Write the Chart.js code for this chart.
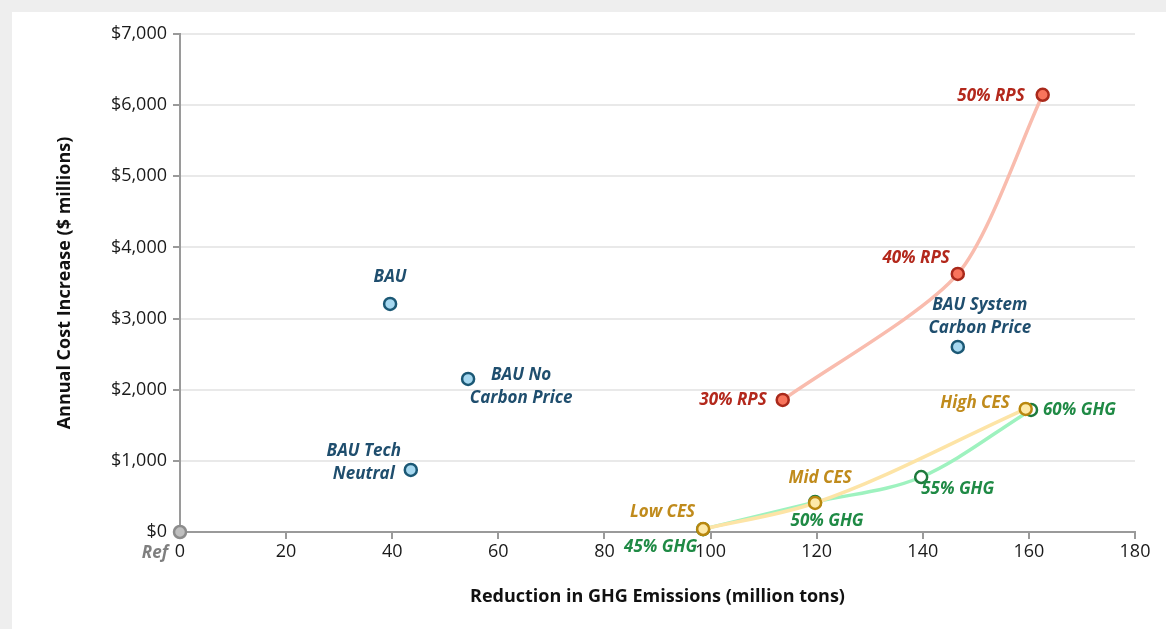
<!DOCTYPE html>
<html>
<head>
<meta charset="utf-8">
<script src="https://cdn.jsdelivr.net/npm/chart.js@4.4.1/dist/chart.umd.min.js"></script>
<style>
  html, body { margin: 0; padding: 0; background: #eeeeee; }
  .card { position: absolute; left: 12px; top: 12px; width: 1160px; height: 630px; background: #fff; }
  .wrap { position: absolute; left: 0; top: 0; width: 1166px; height: 629px; }
</style>
</head>
<body>
<div class="card"></div>
<div class="wrap"><canvas id="costChart" width="1166" height="629"></canvas></div>
<script>
// reference point
const refX = [0];
const refY = [0];
const refNames = [['Ref']];

// business-as-usual cases
const bauNames = [['BAU'], ['BAU No', 'Carbon Price'], ['BAU Tech', 'Neutral'], ['BAU System', 'Carbon Price']];
const bauX = [39.6, 54.3, 43.5, 146.6];
const bauY = [3206, 2151, 872, 2602];

// renewable portfolio standard
const rpsNames = [['30% RPS'], ['40% RPS'], ['50% RPS']];
const rpsX = [113.6, 146.6, 162.6];
const rpsY = [1856, 3628, 6146];

// clean energy standard
const cesNames = [['Low CES'], ['Mid CES'], ['High CES']];
const cesX = [98.6, 119.7, 159.4];
const cesY = [42, 408, 1730];

// GHG caps
const ghgNames = [['45% GHG'], ['50% GHG'], ['55% GHG'], ['60% GHG']];
const ghgX = [98.6, 119.7, 139.7, 160.4];
const ghgY = [40, 420, 773, 1716];

const xTicks = [0, 20, 40, 60, 80, 100, 120, 140, 160, 180];
const yTicks = [0, 1000, 2000, 3000, 4000, 5000, 6000, 7000];

function pts(xs, ys) {
  return xs.map((x, i) => ({ x: x, y: ys[i] }));
}

// label placement: [dx, dy, align] relative to each point
const labelPos = {
  ref: [[-12, 21, 'right']],
  bau: [[0, -27, 'center'], [53, -4, 'center'], [-47, -19, 'center'], [22, -42, 'center']],
  rps: [[-16, 0, 'right'], [-8, -16, 'right'], [-18, 1, 'right']],
  ces: [[-8, -17, 'right'], [5, -25, 'center'], [-16, -6, 'right']],
  ghg: [[-6, 18, 'right'], [12, 19, 'center'], [0, 12, 'left'], [12, 0, 'left']],
};

const labelFont = 'italic bold 17px "Open Sans"';

const pointLabels = {
  id: 'pointLabels',
  afterDatasetsDraw(chart) {
    const ctx = chart.ctx;
    ctx.save();
    ctx.font = labelFont;
    ctx.textBaseline = 'middle';
    chart.data.datasets.forEach((ds, di) => {
      const meta = chart.getDatasetMeta(di);
      ds.names.forEach((lines, i) => {
        const el = meta.data[i];
        const p = labelPos[ds.key][i];
        ctx.fillStyle = ds.labelColor;
        ctx.textAlign = p[2];
        lines.forEach((t, li) => {
          ctx.fillText(t, el.x + p[0], el.y + p[1] + li * 23);
        });
      });
    });
    ctx.restore();
  },
};

new Chart(document.getElementById('costChart'), {
  type: 'scatter',
  data: {
    datasets: [
      {
        key: 'ref', names: refNames, labelColor: '#7f7f7f',
        data: pts(refX, refY), clip: false,
        backgroundColor: '#bfbfbf', borderColor: '#8c8c8c',
      },
      {
        key: 'bau', names: bauNames, labelColor: '#1f4e6e',
        data: pts(bauX, bauY), clip: false,
        backgroundColor: '#a6d8f0', borderColor: '#1b5875',
      },
      {
        key: 'rps', names: rpsNames, labelColor: '#b3281c',
        data: pts(rpsX, rpsY), clip: false,
        showLine: true, tension: 0.25,
        backgroundColor: '#f8745c', borderColor: '#f9bcae',
        pointBorderColor: '#a9291b',
      },
      {
        key: 'ces', names: cesNames, labelColor: '#c08b1c',
        data: pts(cesX, cesY), clip: false,
        showLine: true, cubicInterpolationMode: 'monotone',
        backgroundColor: '#fde9a8', borderColor: '#fde4a6',
        pointBorderColor: '#b9870e',
      },
      {
        key: 'ghg', names: ghgNames, labelColor: '#1f8a45',
        data: pts(ghgX, ghgY), clip: false,
        showLine: true, cubicInterpolationMode: 'monotone',
        backgroundColor: '#ffffff', borderColor: '#9ef2bf',
        pointBorderColor: '#1d7a3c',
      },
    ],
  },
  options: {
    responsive: false,
    animation: false,
    layout: { padding: { left: 12, top: 34, right: 31, bottom: 9 } },
    elements: {
      point: { radius: 6, borderWidth: 2.5, hoverRadius: 6 },
      line: { borderWidth: 3.5 },
    },
    scales: {
      x: {
        type: 'linear', min: 0, max: 180,
        afterBuildTicks: (s) => { s.ticks = xTicks.map(v => ({ value: v })); },
        afterFit: (s) => { s.height = 88; },
        border: { color: '#9a9a9a', width: 2 },
        grid: { drawOnChartArea: false, drawTicks: true, tickLength: 7, color: '#9a9a9a', lineWidth: 2 },
        ticks: { color: '#1a1a1a', font: { family: 'Open Sans', size: 18 }, padding: 2 },
        title: {
          display: true, text: 'Reduction in GHG Emissions (million tons)',
          color: '#111', font: { family: 'Open Sans', size: 18, weight: 'bold' }, padding: { top: 4, bottom: 12 },
        },
      },
      y: {
        type: 'linear', min: 0, max: 7000,
        afterBuildTicks: (s) => { s.ticks = yTicks.map(v => ({ value: v })); },
        afterFit: (s) => { s.width = 168; },
        border: { color: '#9a9a9a', width: 2 },
        grid: { color: '#e9e9e9', lineWidth: 2, tickColor: '#9a9a9a', tickLength: 7 },
        ticks: {
          color: '#1a1a1a', font: { family: 'Open Sans', size: 18 }, padding: 6,
          callback: (v) => '$' + v.toLocaleString('en-US'),
        },
        title: {
          display: true, text: 'Annual Cost Increase ($ millions)',
          color: '#111', font: { family: 'Open Sans', size: 18, weight: 'bold' }, padding: { top: 42, bottom: 4 },
        },
      },
    },
    plugins: {
      legend: { display: false },
      tooltip: { enabled: false },
    },
  },
  plugins: [pointLabels],
});
</script>
</body>
</html>
